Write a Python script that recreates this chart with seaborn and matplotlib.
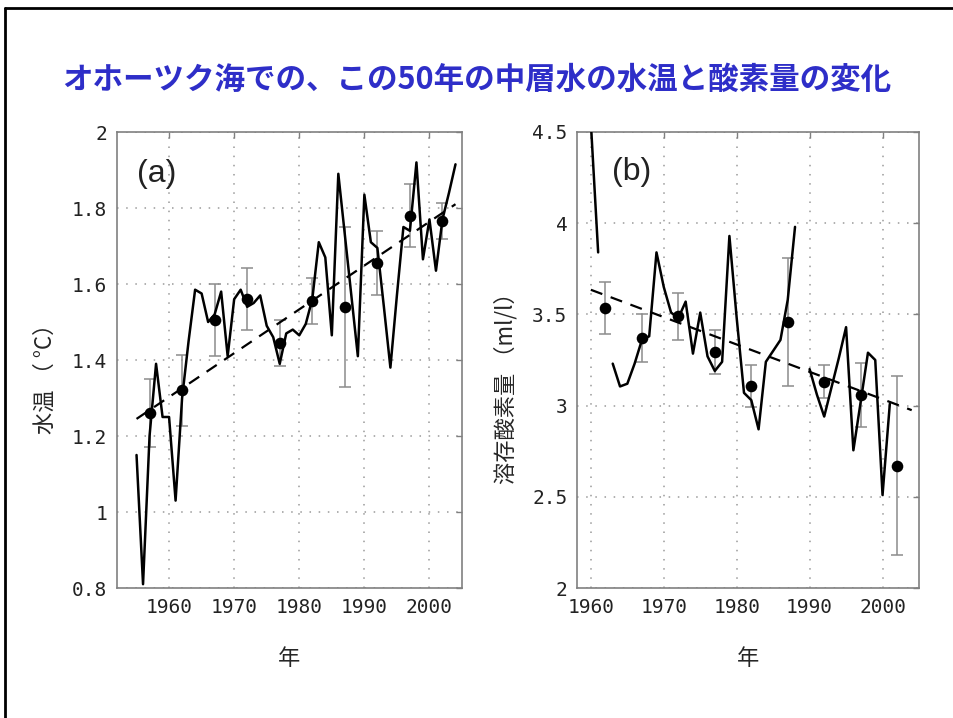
import numpy as np
import pandas as pd
import seaborn as sns
import matplotlib.pyplot as plt
from matplotlib.lines import Line2D

# (a) water temperature of the intermediate layer, yearly values
years_a = list(range(1955, 2005))
temp_a = [1.15, 0.81, 1.20, 1.39, 1.25, 1.25, 1.03, 1.30, 1.45, 1.585,
          1.575, 1.50, 1.52, 1.58, 1.41, 1.56, 1.585, 1.54, 1.55, 1.57,
          1.49, 1.46, 1.39, 1.47, 1.48, 1.465, 1.495, 1.56, 1.71, 1.67,
          1.465, 1.89, 1.73, 1.57, 1.41, 1.835, 1.71, 1.695, 1.54, 1.38,
          1.57, 1.75, 1.74, 1.92, 1.665, 1.77, 1.635, 1.77, 1.84, 1.915]
# 5-year means and their error bars
mean_years_a = [1957, 1962, 1967, 1972, 1977, 1982, 1987, 1992, 1997, 2002]
mean_temp_a = [1.26, 1.32, 1.505, 1.56, 1.445, 1.555, 1.54, 1.655, 1.78, 1.765]
err_temp_a = [0.09, 0.093, 0.094, 0.082, 0.06, 0.06, 0.21, 0.085, 0.082, 0.047]
# linear trend (dashed)
trend_years_a = [1955, 2004]
trend_temp_a = [1.245, 1.81]

# (b) dissolved oxygen, yearly values (nan = no data)
years_b = list(range(1960, 2002))
oxy_b = [4.55, 3.84, np.nan, 3.23, 3.105, 3.12, 3.23, 3.36, 3.38, 3.84,
         3.65, 3.51, 3.48, 3.57, 3.285, 3.51, 3.27, 3.19, 3.24, 3.93,
         3.48, 3.07, 3.03, 2.87, 3.24, 3.30, 3.36, 3.58, 3.98, np.nan,
         3.20, 3.06, 2.94, 3.10, 3.26, 3.43, 2.755, 3.02, 3.29, 3.25,
         2.51, 3.01]
mean_years_b = [1962, 1967, 1972, 1977, 1982, 1987, 1992, 1997, 2002]
mean_oxy_b = [3.535, 3.37, 3.49, 3.295, 3.105, 3.46, 3.13, 3.06, 2.67]
err_oxy_b = [0.14, 0.13, 0.13, 0.12, 0.115, 0.35, 0.09, 0.175, 0.49]
trend_years_b = [1960, 2004]
trend_oxy_b = [3.635, 2.975]

# ticks
xticks = [1960, 1970, 1980, 1990, 2000]
xtick_labels = ['1960', '1970', '1980', '1990', '2000']
yticks_a = [0.8, 1.0, 1.2, 1.4, 1.6, 1.8, 2.0]
ytick_labels_a = ['0.8', '1', '1.2', '1.4', '1.6', '1.8', '2']
yticks_b = [2.0, 2.5, 3.0, 3.5, 4.0, 4.5]
ytick_labels_b = ['2', '2.5', '3', '3.5', '4', '4.5']

title = 'オホーツク海での、この50年の中層水の水温と酸素量の変化'

sns.set_style('white')
plt.rcParams['font.family'] = ['Noto Sans CJK JP', 'DejaVu Sans']

fig = plt.figure(figsize=(9.54, 7.18), dpi=100)
ax_a = fig.add_axes([117/954, 1 - 588/718, 345/954, 456/718])
ax_b = fig.add_axes([577/954, 1 - 588/718, 342/954, 456/718])


def draw_panel(ax, years, values, m_years, m_values, m_err, t_years, t_values):
    df = pd.DataFrame({'year': years, 'value': values})
    df['seg'] = df['value'].isna().cumsum()  # break the line where data is missing
    df = df.dropna()
    ax.errorbar(m_years, m_values, yerr=m_err, fmt='none', ecolor='#8c8c8c',
                elinewidth=1.1, capsize=4.5, capthick=1.1, zorder=2)
    sns.lineplot(data=df, x='year', y='value', units='seg', estimator=None,
                 color='black', linewidth=1.8, ax=ax, zorder=3)
    sns.lineplot(x=t_years, y=t_values, color='black', linewidth=1.6,
                 linestyle=(0, (5.5, 4)), ax=ax, zorder=3)
    sns.scatterplot(x=m_years, y=m_values, color='black', s=70, linewidth=0,
                    ax=ax, zorder=4)
    ax.grid(True, color='#9a9a9a', linestyle=(0, (1, 5)), linewidth=1.1)
    for s in ax.spines.values():
        s.set_visible(True)
        s.set_color('#808080')
        s.set_linewidth(1.2)
    ax.tick_params(direction='in', length=4, width=1, color='#808080',
                   top=True, right=True, labelsize=14, pad=7,
                   labelcolor='#222222')


draw_panel(ax_a, years_a, temp_a, mean_years_a, mean_temp_a, err_temp_a,
           trend_years_a, trend_temp_a)
draw_panel(ax_b, years_b, oxy_b, mean_years_b, mean_oxy_b, err_oxy_b,
           trend_years_b, trend_oxy_b)

ax_a.set_xlim(1952, 2005)
ax_a.set_ylim(0.8, 2.0)
ax_b.set_xlim(1958.1, 2005)
ax_b.set_ylim(2.0, 4.5)

for ax, yt, ytl in [(ax_a, yticks_a, ytick_labels_a), (ax_b, yticks_b, ytick_labels_b)]:
    ax.set_xticks(xticks, labels=xtick_labels, fontfamily='DejaVu Sans Mono')
    ax.set_yticks(yt, labels=ytl, fontfamily='DejaVu Sans Mono')
    ax.set_xlabel('年', fontsize=16)
    ax.xaxis.set_label_coords(0.5, -0.13)

ax_a.set_ylabel('水温 （ °C）', fontsize=16)
ax_a.yaxis.set_label_coords(-0.175, 0.47)
ax_b.set_ylabel('溶存酸素量 （ml/l）', fontsize=16)
ax_b.yaxis.set_label_coords(-0.175, 0.45)

ax_a.text(0.116, 0.908, '(a)', transform=ax_a.transAxes, ha='center', va='center',
          fontsize=23, family='Liberation Sans', color='#222222')
ax_b.text(0.161, 0.912, '(b)', transform=ax_b.transAxes, ha='center', va='center',
          fontsize=23, family='Liberation Sans', color='#222222')

fig.text(0.5, 1 - 80/718, title, ha='center', va='center', fontsize=22,
         fontweight='bold', color='#2e2ec8')

# slide frame (left and top edges)
fig.add_artist(Line2D([5/954, 5/954], [0, 1 - 8/718], color='black', lw=2,
                      transform=fig.transFigure))
fig.add_artist(Line2D([5/954, 1], [1 - 8/718, 1 - 8/718], color='black', lw=2,
                      transform=fig.transFigure))

fig.savefig('out.png', dpi=100)
